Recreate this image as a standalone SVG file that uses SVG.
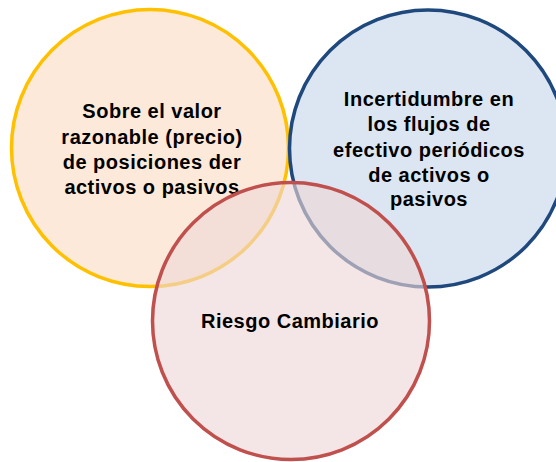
<svg xmlns="http://www.w3.org/2000/svg" width="556" height="462" viewBox="0 0 556 462">
<style>
.lbl{font-family:"Liberation Sans",Arial,sans-serif;font-weight:bold;font-size:20px;letter-spacing:0.5px;fill:#000;text-anchor:middle}
</style>
<rect width="556" height="462" fill="#fff"/>
<g id="node-valor">
<circle cx="150" cy="148" r="138.5" fill="#FDE9D9" stroke="#FFC000" stroke-width="3.5"/>
<text class="lbl" x="152" y="117.5">Sobre el valor</text>
<text class="lbl" x="152" y="143.5">razonable (precio)</text>
<text class="lbl" x="152" y="169">de posiciones der</text>
<text class="lbl" x="152" y="194">activos o pasivos</text>
</g>
<g id="node-flujos">
<circle cx="428" cy="148.5" r="138.5" fill="#DCE6F2" stroke="#1F497D" stroke-width="3.5"/>
<text class="lbl" x="429" y="105.5">Incertidumbre en</text>
<text class="lbl" x="429" y="131">los flujos de</text>
<text class="lbl" x="429" y="156.5">efectivo periódicos</text>
<text class="lbl" x="429" y="181.5">de activos o</text>
<text class="lbl" x="429" y="206">pasivos</text>
</g>
<g id="node-riesgo">
<circle cx="291" cy="321" r="138.5" fill="#EDD6D6" fill-opacity="0.62" stroke="#C0504D" stroke-width="3.5"/>
<text class="lbl" x="290" y="327.5">Riesgo Cambiario</text>
</g>
<g id="connectors"></g>
</svg>
